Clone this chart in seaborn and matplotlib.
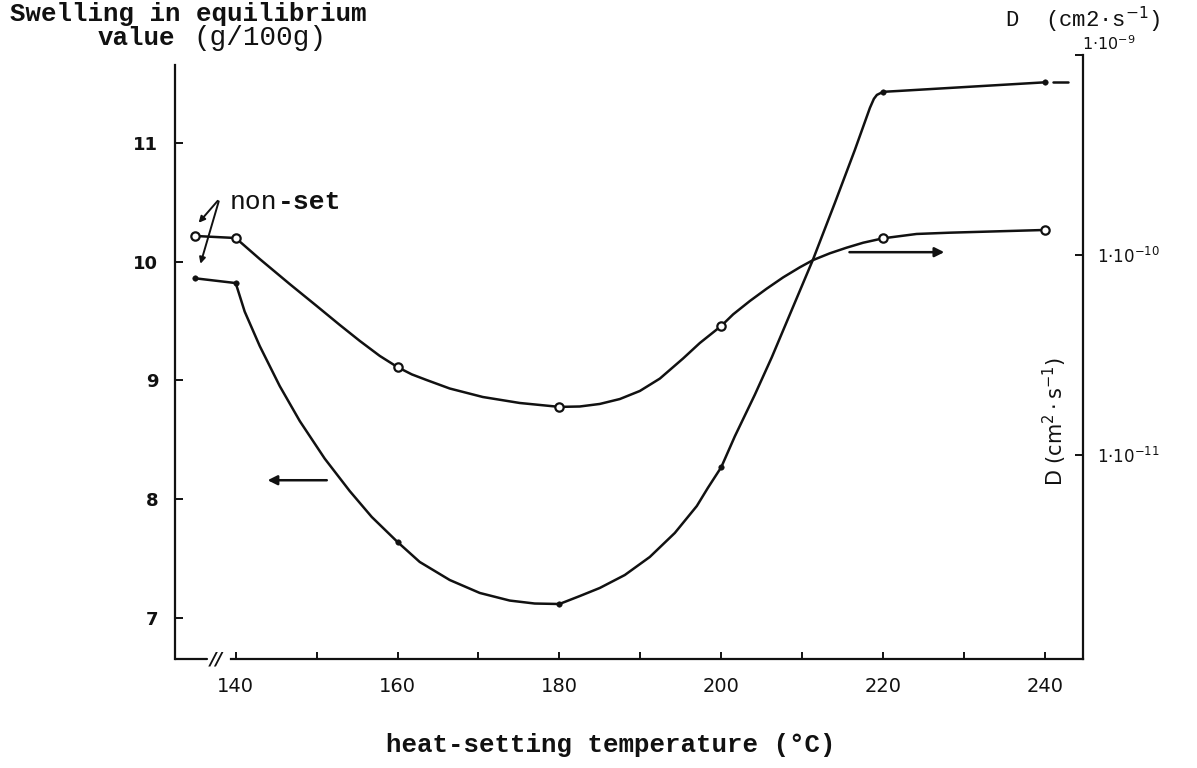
import matplotlib
matplotlib.use("Agg")
import matplotlib.pyplot as plt
import matplotlib.transforms as mtransforms
from matplotlib.ticker import FixedLocator, FixedFormatter, NullLocator
import seaborn as sns
import pandas as pd

# measured points, heat-setting temperature in °C (non-set sample drawn at ~135)
temp_pts = [135.0, 140, 160, 180, 200, 220, 240]
swelling_pts = [9.86, 9.82, 7.64, 7.12, 8.27, 11.43, 11.51]
D_pts = [1.245e-10, 1.216e-10, 2.75e-11, 1.74e-11, 4.42e-11, 1.212e-10, 1.334e-10]

# the hand-drawn curves
swell_curve_T = [135.0, 140, 141.11, 142.97, 145.44, 147.92, 151.0, 154.09, 156.81, 160,
                 162.74, 166.45, 170.16, 173.86, 176.95, 180, 182.52, 184.99, 188.08,
                 191.17, 194.26, 196.98, 198.34, 200, 201.68, 204.15, 206.25, 211.32,
                 214.04, 216.51, 217.75, 218.37, 218.86, 219.23, 220, 222.08, 240]
swell_curve_v = [9.86, 9.82, 9.58, 9.29, 8.953, 8.658, 8.342, 8.069, 7.851, 7.64,
                 7.472, 7.32, 7.211, 7.147, 7.122, 7.118, 7.185, 7.253, 7.362,
                 7.514, 7.716, 7.943, 8.095, 8.27, 8.53, 8.88, 9.196, 10.015,
                 10.495, 10.941, 11.177, 11.295, 11.371, 11.404, 11.43, 11.438, 11.51]
D_curve_T = [135.0, 140, 142.97, 146.67, 150.01, 152.86, 155.33, 157.8, 160, 161.76,
             163.6, 166.45, 170.53, 175.1, 180, 182.52, 184.99, 187.47, 189.94, 192.41,
             195.29, 197.35, 200, 201.47, 203.54, 205.6, 207.65, 209.71, 211.36, 213.42,
             215.49, 217.54, 220, 224.14, 228.26, 240]
D_curve_v = [1.245e-10, 1.216e-10, 9.55e-11, 7.16e-11, 5.56e-11, 4.47e-11, 3.72e-11,
             3.13e-11, 2.75e-11, 2.53e-11, 2.37e-11, 2.15e-11, 1.95e-11, 1.82e-11,
             1.74e-11, 1.748e-11, 1.80e-11, 1.905e-11, 2.09e-11, 2.41e-11, 3.04e-11,
             3.63e-11, 4.42e-11, 5.05e-11, 5.89e-11, 6.78e-11, 7.73e-11, 8.68e-11,
             9.44e-11, 1.0198e-10, 1.088e-10, 1.152e-10, 1.212e-10, 1.274e-10,
             1.293e-10, 1.334e-10]

x_ticks = [140, 160, 180, 200, 220, 240]
x_minor = [150, 170, 190, 210, 230]
left_ticks = [7, 8, 9, 10, 11]
right_ticks = [1e-11, 1e-10, 1e-9]
right_labels = ["1·10$^{-11}$", "1·10$^{-10}$", ""]

sns.set_style("ticks")
plt.rcParams["font.family"] = ["DejaVu Sans"]
ink = "#111111"

fig = plt.figure(figsize=(11.97, 7.68), dpi=100)
ax = fig.add_axes([175 / 1197, 1 - 659 / 768, 908 / 1197, 604 / 768])
ax2 = ax.twinx()
ax2.set_yscale("log")

swell = pd.DataFrame({"T": swell_curve_T, "v": swell_curve_v})
dcur = pd.DataFrame({"T": D_curve_T, "v": D_curve_v})
pts = pd.DataFrame({"T": temp_pts, "s": swelling_pts, "D": D_pts})

sns.lineplot(data=swell, x="T", y="v", sort=False, estimator=None, color=ink, lw=1.8, ax=ax)
sns.scatterplot(data=pts, x="T", y="s", color=ink, s=16, edgecolor=ink, ax=ax, zorder=5)
sns.lineplot(data=dcur, x="T", y="v", sort=False, estimator=None, color=ink, lw=1.8, ax=ax2)
sns.scatterplot(data=pts, x="T", y="D", color="white", s=36, edgecolor=ink, linewidth=1.6,
                ax=ax2, zorder=5)
# small dash after the last swelling point
ax.plot([241.0, 242.8], [11.51, 11.51], color=ink, lw=1.8)

ax.set_xlim(132.5, 244.7)
ax.set_ylim(6.655, 11.74)
ax2.set_ylim(10 ** -12.02, 1e-9)

for a in (ax, ax2):
    a.set_xlabel("")
    a.set_ylabel("")
    a.spines["top"].set_visible(False)
    for sp in a.spines.values():
        sp.set_linewidth(1.6)
        sp.set_color(ink)
ax.spines["right"].set_visible(False)
ax2.spines["left"].set_visible(False)
ax2.spines["bottom"].set_visible(False)
ax.spines["left"].set_bounds(6.655, 11.66)
ax.spines["bottom"].set_bounds(139.4, 244.7)

ax.set_xticks(x_ticks)
ax.set_xticks(x_minor, minor=True)
ax.set_xticklabels([str(t) for t in x_ticks], fontsize=14)
ax.set_yticks(left_ticks)
ax.set_yticklabels([str(t) for t in left_ticks], fontsize=13, fontweight="bold")
ax.yaxis.set_minor_locator(NullLocator())
ax.tick_params(axis="x", which="both", direction="in", length=5, width=1.4, pad=13, colors=ink)
ax.tick_params(axis="y", direction="in", length=6, width=1.4, pad=12, colors=ink)

ax2.yaxis.set_major_locator(FixedLocator(right_ticks))
ax2.yaxis.set_major_formatter(FixedFormatter(right_labels))
ax2.yaxis.set_minor_locator(NullLocator())
ax2.tick_params(axis="y", direction="in", length=6, width=1.4, pad=10, labelsize=12, colors=ink)
# the top decade label sits above the end of the axis
fig.text(1082 / 1197, 1 - 44 / 768, "1·10$^{-9}$", fontsize=11.5, ha="left", va="center", color=ink)

# first little piece of the x axis and the break mark
trans = mtransforms.blended_transform_factory(ax.transData, ax.transAxes)
ax.plot([132.5, 136.4], [0, 0], color=ink, lw=1.6, transform=trans, clip_on=False)
ax.text(137.6, 0.0, "//", transform=trans, ha="center", va="center", fontsize=13,
        fontweight="bold", style="italic", color=ink)

# non-set annotation
ax.text(139.3, 10.50, "non", family="Liberation Mono", fontsize=19, ha="left", va="center", color=ink)
ax.text(145.2, 10.50, "-set", family="Liberation Mono", fontweight="bold", fontsize=19,
        ha="left", va="center", color=ink)
for tgt in [(135.2, 10.31), (135.55, 9.96)]:
    ax.annotate("", xy=tgt, xytext=(138.0, 10.53),
                arrowprops=dict(arrowstyle="-|>", color=ink, lw=1.4, mutation_scale=9))

# arrows telling which axis belongs to which curve
ax.annotate("", xy=(143.6, 8.16), xytext=(151.6, 8.16),
            arrowprops=dict(arrowstyle="-|>", color=ink, lw=1.8, mutation_scale=14))
ax.annotate("", xy=(227.9, 10.08), xytext=(215.5, 10.08),
            arrowprops=dict(arrowstyle="-|>", color=ink, lw=1.8, mutation_scale=14))

# axis titles
fig.text(10 / 1197, 1 - 14 / 768, "Swelling in equilibrium", family="Liberation Mono",
         fontweight="bold", fontsize=18.5, ha="left", va="center", color=ink)
fig.text(98 / 1197, 1 - 38 / 768, "value", family="Liberation Mono",
         fontweight="bold", fontsize=18.5, ha="left", va="center", color=ink)
fig.text(193 / 1197, 1 - 38 / 768, "(g/100g)", family="Liberation Mono",
         fontsize=20, ha="left", va="center", color=ink)
fig.text(1005 / 1197, 1 - 20 / 768, "D  (cm2·s$^{-1}$)", family="Liberation Mono",
         fontsize=16, ha="left", va="center", color=ink)
fig.text(1055 / 1197, 1 - 421 / 768, "D (cm$^{2}\\cdot$s$^{-1}$)", rotation=90,
         fontsize=15, ha="center", va="center", color=ink)
fig.text(611 / 1197, 1 - 745 / 768, "heat-setting temperature (°C)", family="Liberation Mono",
         fontweight="bold", fontsize=18.5, ha="center", va="center", color=ink)

fig.savefig("out.png", dpi=100, facecolor="white")
